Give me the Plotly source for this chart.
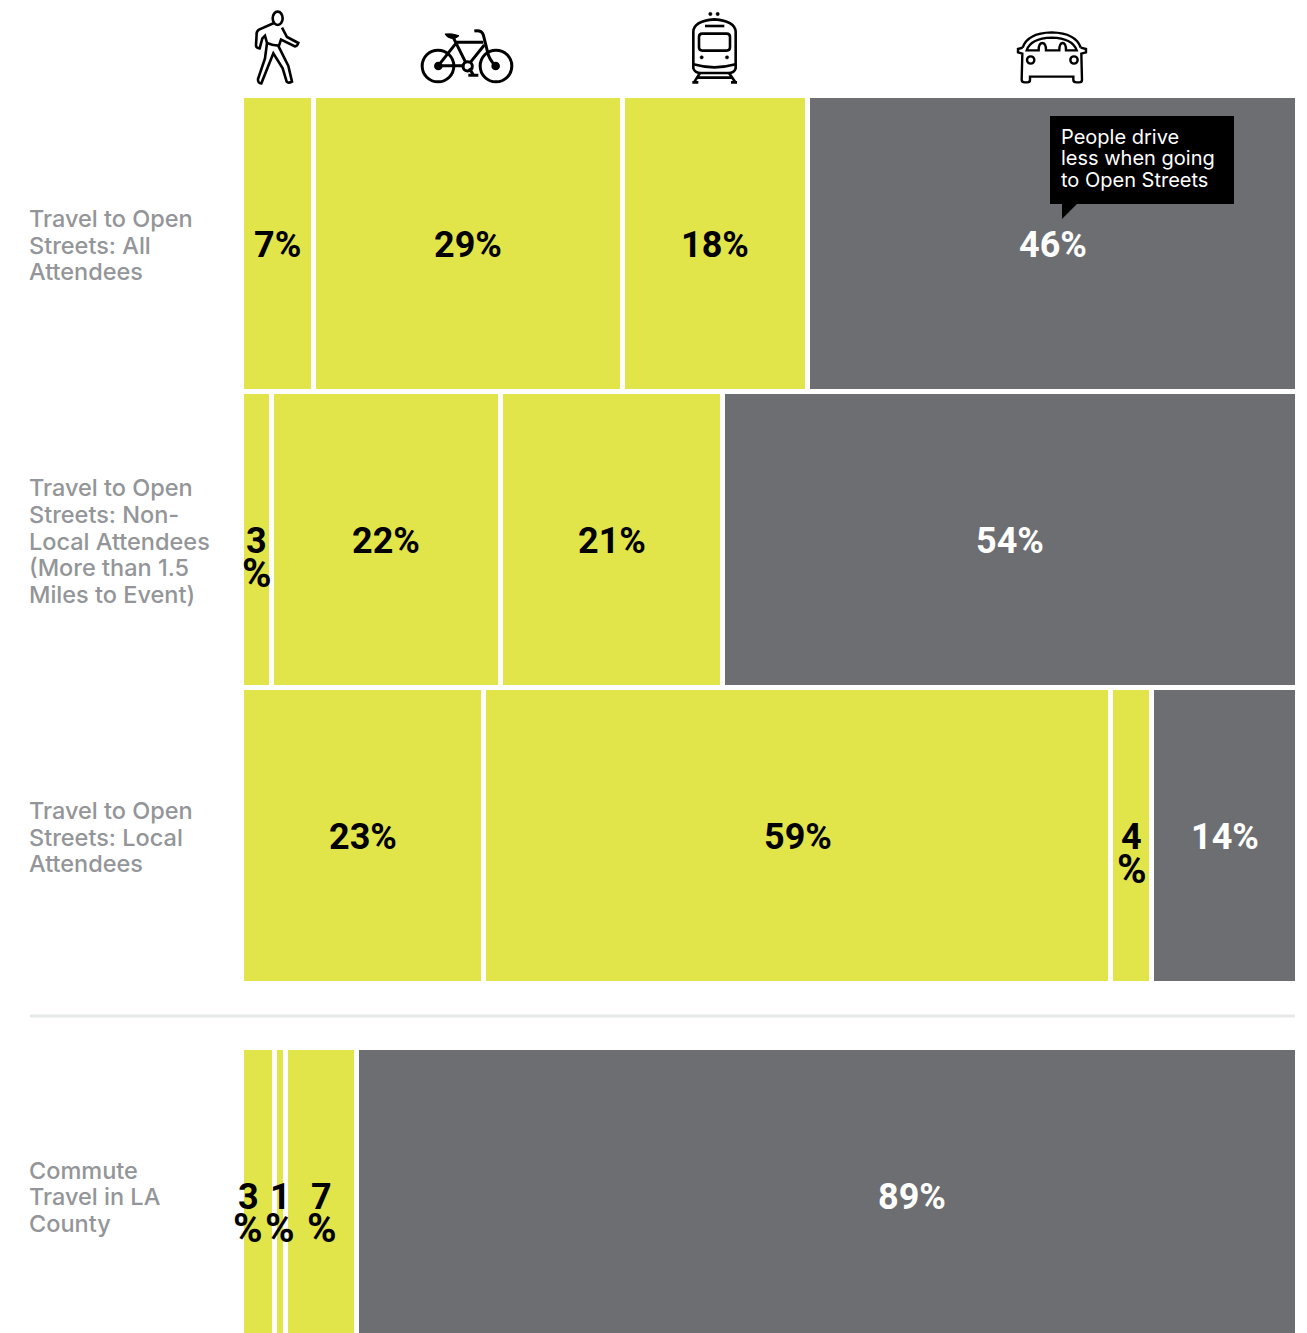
import re
import plotly.graph_objects as go

W, H = 1307, 1333

modes = ["Walk", "Bike", "Transit", "Drive"]
row_positions = [0, 1, 2, 3.216]
row_lines = [
    ["Travel to Open", "Streets: All", "Attendees"],
    ["Travel to Open", "Streets: Non-", "Local Attendees", "(More than 1.5", "Miles to Event)"],
    ["Travel to Open", "Streets: Local", "Attendees"],
    ["Commute", "Travel in LA", "County"],
]
walk = [6.82, 2.9, 22.97, 3.13]
bike = [29.26, 21.63, 59.37, 1.09]
transit = [17.52, 21.02, 3.88, 6.74]
drive = [46.4, 54.45, 13.78, 89.04]
walk_labels = ["7%", "3%", "23%", "3%"]
bike_labels = ["29%", "22%", "59%", "1%"]
transit_labels = ["18%", "21%", "4%", "7%"]
drive_labels = ["46%", "54%", "14%", "89%"]
callout_lines = ["People drive", "less when going", "to Open Streets"]

YELLOW = "#E2E54A"
GRAY = "#6D6E71"
LABEL = "#939598"
FONT = "Roboto"
SIDE_FONT = "Inter"

series = [walk, bike, transit, drive]
labels = [walk_labels, bike_labels, transit_labels, drive_labels]
colors = [YELLOW, YELLOW, YELLOW, GRAY]

fig = go.Figure()
for name, vals, col in zip(modes, series, colors):
    fig.add_trace(go.Bar(
        name=name, y=row_positions, x=vals, orientation="h", width=1,
        marker=dict(color=col, line=dict(color="white", width=5)),
        hoverinfo="skip", showlegend=False,
    ))

# axes: 0..100 spans x 241.5..1297.5 px; one row is 296 px, row 0 centred at 244
xscale = 1056 / 100
x_range = [-241.5 / xscale, (W - 241.5) / xscale]
y_range = [(H - 244) / 296, -244 / 296]

ann = []
def text(x, y, s, size, color, weight=700, xref="x", yref="y", xanchor="center", xshift=0, yshift=0, family=FONT):
    ann.append(dict(x=x, y=y, xref=xref, yref=yref, text=s, showarrow=False, xanchor=xanchor,
                    yanchor="middle", xshift=xshift, yshift=yshift, borderpad=0, borderwidth=0,
                    font=dict(family=family, size=size, color=color, weight=weight)))

for r, pos in enumerate(row_positions):
    cum = 0
    for s in range(4):
        v = series[s][r]
        mid = cum + v / 2
        cum += v
        lab = labels[s][r]
        color = "white" if s == 3 else "black"
        if v < 3.95 or (lab == "7%" and r == 3):
            dx = -10 if (r == 3 and s == 0) else 0
            text(mid, pos, lab[:-1], 36, color, xshift=dx, yshift=-1)
            text(mid, pos, "%", 40, color, xshift=dx, yshift=-33)
        else:
            dx = 85 if lab == "89%" else 0
            text(mid, pos, lab, 36, color, xshift=dx, yshift=-1)
    for i, line in enumerate(row_lines[r]):
        off = (i - (len(row_lines[r]) - 1) / 2) * 26.7
        text(29 / W, pos, line, 23.5, LABEL, weight=500, xref="paper", xanchor="left",
             yshift=-1 - off, family=SIDE_FONT)

# callout text
for py, line in zip([137, 158, 180], callout_lines):
    text(1061 / W, 1 - py / H, line, 20, "white", weight=400, xref="paper", yref="paper",
         xanchor="left", family=SIDE_FONT)

# shapes in pixel terms
def P(path, ox=0, oy=0, k=1.0):
    def conv(seg):
        nums = re.findall(r"-?[\d.]+", seg)
        out = []
        for i in range(0, len(nums), 2):
            px = ox + float(nums[i]) * k
            py = oy + float(nums[i + 1]) * k
            out.append(f"{px / W:.6f},{1 - py / H:.6f}")
        return " ".join(out)
    res = ""
    for cmd, args in re.findall(r"([MLCQZ])([^MLCQZ]*)", path):
        res += cmd + (conv(args) if args.strip() else "")
    return res

shapes = []
def path(d, ox=0, oy=0, k=1.0, fill=None, lw=2.6):
    shapes.append(dict(type="path", xref="paper", yref="paper", path=P(d, ox, oy, k),
                       line=dict(color="black" if lw else "rgba(0,0,0,0)", width=lw),
                       fillcolor=fill or "rgba(0,0,0,0)", layer="above"))
def circ(cx, cy, r, ox=0, oy=0, k=1 / 3, fill=None, lw=2.6, ry=None):
    ry = ry or r
    x0, x1 = ox + (cx - r) * k, ox + (cx + r) * k
    y0, y1 = oy + (cy - ry) * k, oy + (cy + ry) * k
    shapes.append(dict(type="circle", xref="paper", yref="paper",
                       x0=x0 / W, x1=x1 / W, y0=1 - y1 / H, y1=1 - y0 / H,
                       line=dict(color="black", width=lw),
                       fillcolor=fill or "rgba(0,0,0,0)", layer="above"))

# divider
path("M30,1016L1295,1016", lw=0)
shapes[-1]["line"] = dict(color="#E6E7E8", width=3)

# callout box and tail
path("M1050,116L1234,116L1234,204L1077,204L1062,219L1062,204L1050,204Z", fill="black", lw=0)

# pedestrian
o = dict(ox=245, oy=5, k=1 / 3)
circ(98, 40, 15, fill=None, ry=20, ox=245, oy=5)
path("M87,54 L42,74 Q35,78 35,86 L33,122 Q34,130 44,130 L52,100 L60,92 L66,114 L60,160 L39,222 Q38,235 49,235 L85,145 L113,190 L125,230 Q130,236 141,230 L130,183 L101,125 L108,104 L150,124 Q157,124 160,114 L126,96 L111,68", **o)
path("M66,114 Q85,122 101,122", **o)

# bicycle
o = dict(ox=415, oy=25, k=1 / 3)
oc = dict(ox=415, oy=25)
circ(69, 123, 47.5, lw=3, **oc)
circ(243, 123, 47.5, lw=3, **oc)
circ(70, 123, 9, fill="black", **oc)
circ(242, 123, 9, fill="black", **oc)
circ(158, 124, 14, lw=3, **oc)
path("M70,122 L148,122 M70,122 L125,52 M115,38 L152,112 M125,52 L205,52 M208,60 L166,112 M163,130 L175,150 M160,151 L190,151", lw=3, **o)
path("M178,18 Q200,14 205,30 L217,78 Q222,105 242,122", lw=3, **o)
path("M90,27 Q110,24 132,32 Q125,42 108,40 Q96,38 90,27 Z", fill="black", lw=1, **o)

# train
o = dict(ox=685, oy=5, k=1 / 3)
oc = dict(ox=685, oy=5)
circ(76, 27, 5, fill="black", lw=0.5, **oc)
circ(98, 27, 5, fill="black", lw=0.5, **oc)
path("M25,178 L25,80 Q26,48 88,43 Q150,48 152,80 L152,178 Q88,196 25,178 Z", **o)
path("M25,178 L25,190 Q30,204 48,204 L130,204 Q148,204 152,190 L152,178", **o)
path("M60,63 L118,63", **o)
path("M52,86 L125,86 Q135,86 135,96 L135,127 Q135,137 125,137 L52,137 Q42,137 42,127 L42,96 Q42,86 52,86 Z", **o)
circ(50, 157, 5, fill="black", lw=0.5, **oc)
circ(126, 157, 5, fill="black", lw=0.5, **oc)
path("M45,204 L27,232 M132,204 L151,232 M38,218 L140,218 M22,232 L40,232 M138,232 L156,232", **o)

# car
o = dict(ox=1010, oy=25, k=1 / 3)
oc = dict(ox=1010, oy=25)
path("M38,68 Q52,24 125,22 Q198,24 212,68", lw=2.4, **o)
path("M50,76 Q62,40 125,38 Q188,40 200,76 L168,76 Q168,54 158,54 Q148,54 148,76 L108,76 Q108,54 97,54 Q86,54 86,76 Z", lw=2.4, **o)
path("M38,68 L24,72 L24,82 L37,86 L35,165 Q35,172 45,172 L52,172 Q60,172 60,165 L60,155 L190,155 L190,165 Q190,172 200,172 L208,172 Q216,172 216,165 L214,86 L228,82 L228,72 L212,68", lw=2.4, **o)
circ(62, 105, 11, lw=2.4, **oc)
circ(192, 105, 11, lw=2.4, **oc)

fig.update_layout(
    width=W, height=H, barmode="stack", bargap=0,
    margin=dict(l=0, r=0, t=0, b=0, pad=0),
    paper_bgcolor="white", plot_bgcolor="white",
    xaxis=dict(range=x_range, visible=False, fixedrange=True),
    yaxis=dict(range=y_range, visible=False, fixedrange=True),
    annotations=ann, shapes=shapes,
)
fig.write_html("out.html", config={"displayModeBar": False},
               post_script="document.body.style.margin='0';document.documentElement.style.overflow='hidden';")
